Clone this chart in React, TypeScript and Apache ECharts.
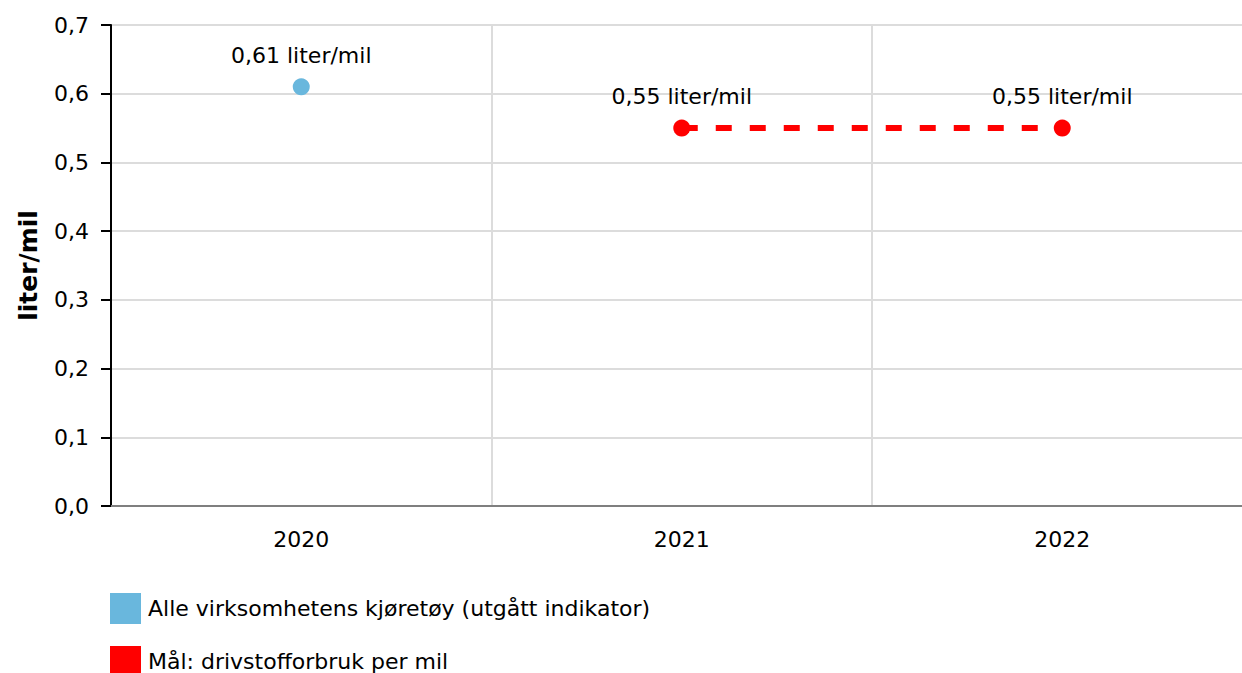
import React, { useEffect, useRef } from "react";
import * as echarts from "echarts";

const categories = ["2020", "2021", "2022"];
const allVehicles = [0.61, null, null];
const target = [null, 0.55, 0.55];
const seriesNames = ["Alle virksomhetens kjøretøy (utgått indikator)", "Mål: drivstofforbruk per mil"];
const yTicks = { min: 0, max: 0.7, interval: 0.1 };
const unit = "liter/mil";

const FONT = "DejaVu Sans";
const FS = 22;
const fmt = (v: number, d: number) => v.toFixed(d).replace(".", ",");

export default function App() {
  const ref = useRef<HTMLDivElement>(null);
  useEffect(() => {
    if (!ref.current) return;
    const chart = echarts.init(ref.current, undefined, { renderer: "svg" });
    const label = {
      show: true,
      position: "top",
      distance: 12,
      color: "#000",
      fontFamily: FONT,
      fontSize: FS,
      formatter: (p: any) => `${fmt(p.value, 2)} ${unit}`,
    };
    chart.setOption({
      animation: false,
      textStyle: { fontFamily: FONT },
      grid: { left: 111, right: 9.5, top: 25, bottom: 774 - 506 },
      legend: {
        left: 110,
        top: 593,
        padding: 0,
        orient: "vertical",
        icon: "rect",
        itemWidth: 31,
        itemHeight: 31,
        itemGap: 22,
        textStyle: { fontFamily: FONT, fontSize: FS, color: "#000", padding: [0, 0, 0, 2] },
        itemStyle: { borderWidth: 0 },
        data: seriesNames,
      },
      xAxis: {
        type: "category",
        data: categories,
        boundaryGap: true,
        axisLine: { lineStyle: { color: "#7f7f7f", width: 2 } },
        axisTick: { alignWithLabel: true, length: 8, lineStyle: { color: "#b5b5b5", width: 2 } },
        axisLabel: { color: "#000", fontFamily: FONT, fontSize: FS, margin: 22 },
        splitLine: { show: true, lineStyle: { color: "#dcdcdc", width: 2 } },
      },
      yAxis: {
        type: "value",
        min: yTicks.min,
        max: yTicks.max,
        interval: yTicks.interval,
        name: unit,
        nameLocation: "middle",
        nameGap: 70,
        nameTextStyle: { fontFamily: FONT, fontSize: 25, fontWeight: "bold", color: "#000" },
        axisLine: { show: true, lineStyle: { color: "#000", width: 2 } },
        axisTick: { show: true, length: 10, lineStyle: { color: "#000", width: 2 } },
        axisLabel: {
          color: "#000",
          fontFamily: FONT,
          fontSize: FS,
          margin: 22,
          formatter: (v: number) => fmt(v, 1),
        },
        splitLine: { show: true, lineStyle: { color: "#dcdcdc", width: 2 } },
      },
      series: [
        {
          name: seriesNames[0],
          type: "line",
          data: allVehicles,
          symbol: "circle",
          symbolSize: 17,
          itemStyle: { color: "#69b7dd" },
          lineStyle: { width: 0 },
          label,
        },
        {
          name: seriesNames[1],
          type: "line",
          data: target,
          symbol: "circle",
          symbolSize: 17,
          itemStyle: { color: "#ff0000" },
          lineStyle: { color: "#ff0000", width: 6, type: [16, 18] },
          label,
        },
      ],
    });
    return () => chart.dispose();
  }, []);
  return (
    <div style={{ position: "fixed", left: 0, top: 0, width: 1242, height: 673, overflow: "hidden", background: "#fff" }}>
      <div ref={ref} style={{ width: 1262, height: 774 }} />
    </div>
  );
}
